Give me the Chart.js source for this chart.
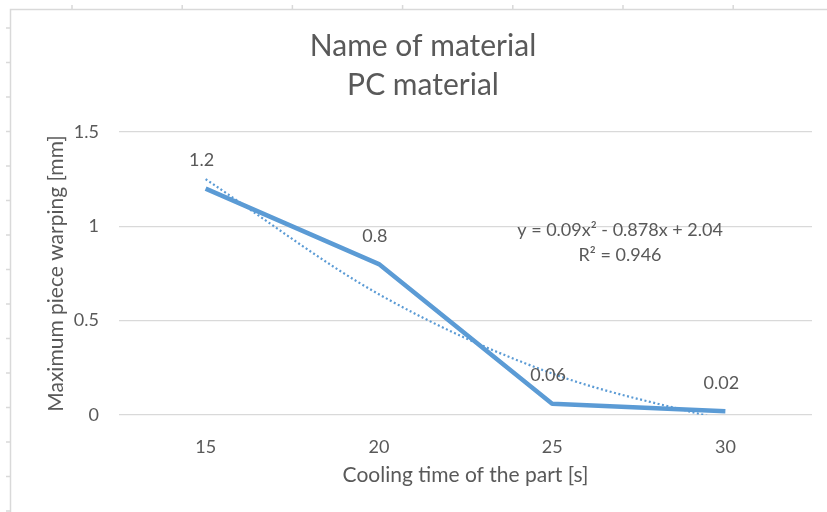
<!DOCTYPE html>
<html>
<head>
<meta charset="utf-8">
<script src="https://cdn.jsdelivr.net/npm/chart.js@4.4.1/dist/chart.umd.min.js"></script>
<style>
  html, body { margin: 0; padding: 0; background: #fff; }
  #wrap { width: 827px; height: 512px; position: relative; }
</style>
</head>
<body>
<div id="wrap"><canvas id="chart" width="827" height="512"></canvas></div>
<script>
// chart data
const coolingTimes = ["15", "20", "25", "30"];
const warping = [1.2, 0.8, 0.06, 0.02];
const trendValues = [1.25, 0.64, 0.22, -0.03];
const yTicks = [0, 0.5, 1, 1.5];
const equationLines = ["y = 0.09x² - 0.878x + 2.04", "R² = 0.946"];

const textColor = "#595959";
const blue = "#5b9bd5";
const font = "Lato";

// excel sheet border + little cell marks around the chart
const sheetFrame = {
  id: "sheetFrame",
  beforeDraw(chart) {
    const ctx = chart.ctx;
    ctx.save();
    ctx.fillStyle = "#fff";
    ctx.fillRect(0, 0, chart.width, chart.height);
    ctx.strokeStyle = "#d9d9d9";
    ctx.lineWidth = 1.5;
    ctx.beginPath();
    ctx.moveTo(10.5, chart.height);
    ctx.lineTo(10.5, 9.5);
    ctx.lineTo(chart.width, 9.5);
    for (let y = 28; y < chart.height; y += 34.5) {
      ctx.moveTo(6, y);
      ctx.lineTo(10, y);
    }
    for (let x = 72; x < chart.width; x += 110.2) {
      ctx.moveTo(x, 5);
      ctx.lineTo(x, 9);
    }
    ctx.stroke();
    ctx.restore();
  }
};

// value labels above the points, and the trend equation
const labelsPlugin = {
  id: "labelsPlugin",
  afterDatasetsDraw(chart) {
    const ctx = chart.ctx;
    const meta = chart.getDatasetMeta(0);
    ctx.save();
    ctx.fillStyle = textColor;
    ctx.font = "18px " + font;
    ctx.textAlign = "center";
    ctx.textBaseline = "middle";
    meta.data.forEach((pt, i) => {
      ctx.fillText(String(warping[i]), pt.x - 4, pt.y - 28);
    });
    const area = chart.chartArea;
    const ex = area.left + (area.right - area.left) * 0.723;
    const ey = chart.scales.y.getPixelForValue(0.98);
    equationLines.forEach((t, i) => ctx.fillText(t, ex, ey + i * 25));
    ctx.restore();
  }
};

new Chart(document.getElementById("chart"), {
  type: "line",
  data: {
    labels: coolingTimes,
    datasets: [
      {
        label: "PC material",
        data: warping,
        borderColor: blue,
        borderWidth: 4.5,
        pointRadius: 0,
        tension: 0,
        borderJoinStyle: "round"
      },
      {
        label: "Trend",
        data: trendValues,
        borderColor: blue,
        borderWidth: 2.2,
        borderDash: [2, 2.5],
        pointRadius: 0,
        cubicInterpolationMode: "monotone",
        clip: 0
      }
    ]
  },
  options: {
    responsive: false,
    animation: false,
    layout: { padding: { left: 34, right: 15, top: 0, bottom: 0 } },
    plugins: {
      legend: { display: false },
      tooltip: { enabled: false },
      title: {
        display: true,
        text: ["Name of material", "PC material"],
        color: textColor,
        font: { family: font, size: 30, weight: "normal", lineHeight: 1.3 },
        padding: { top: 26.5, bottom: 27.5 }
      }
    },
    scales: {
      x: {
        offset: true,
        grid: { display: false, drawTicks: false },
        border: { display: false },
        ticks: { color: textColor, font: { family: font, size: 18 }, padding: 21 },
        title: {
          display: true,
          text: "Cooling time of the part [s]",
          color: textColor,
          font: { family: font, size: 21 },
          padding: { top: 24.4, bottom: 24.4 }
        },
        afterFit(scale) { scale.height = 97; }
      },
      y: {
        min: 0,
        max: 1.5,
        afterBuildTicks(scale) { scale.ticks = yTicks.map(v => ({ value: v })); },
        grid: { color: "#d9d9d9", lineWidth: 1.3, drawTicks: false },
        border: { display: false },
        ticks: {
          color: textColor,
          font: { family: font, size: 18 },
          padding: 20,
          callback: v => String(v)
        },
        title: {
          display: true,
          text: "Maximum piece warping [mm]",
          color: textColor,
          font: { family: font, size: 21 },
          padding: { top: 9.4, bottom: 5 }
        },
        afterFit(scale) { scale.width = 85; }
      }
    }
  },
  plugins: [sheetFrame, labelsPlugin]
});
</script>
</body>
</html>
